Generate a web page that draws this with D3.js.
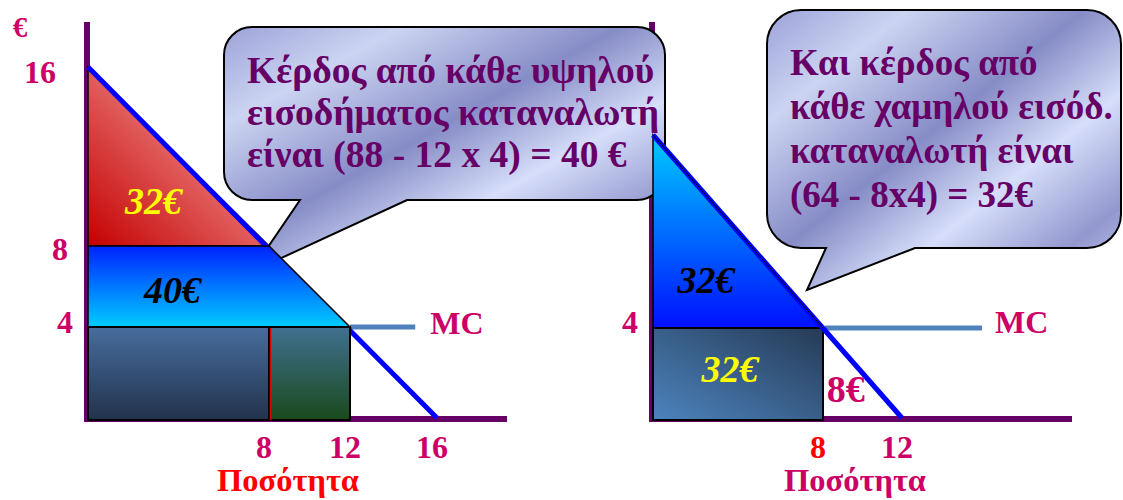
<!DOCTYPE html>
<html>
<head>
  <meta charset="UTF-8">
  <title>Κέρδος ανά καταναλωτή</title>
  <script src="https://d3js.org/d3.v7.min.js"></script>
  <style>
    body { margin: 0; background: white; }
    text { font-family: "Liberation Serif", "Times New Roman", serif; font-weight: bold; }
  </style>
</head>
<body>
<svg id="chart"></svg>
<script>
// ---- data ----
let leftYTicks = [16, 8, 4];
let leftXTicks = [8, 12, 16];
let rightYTicks = [4];
let rightXTicks = [8, 12];

let mc = 4;
let demandHigh = [[0, 16], [16, 0]];
let demandLow = [[0, 12], [12, 0]];

let surplusHigh = [[0, 16], [0, 8], [8, 8]];          // 32€
let profitHigh = [[0, 8], [8, 8], [12, 4], [0, 4]];    // 40€
let costHigh = [[0, 8], [8, 12]];                       // cost rectangles

let profitLow = [[0, 12], [0, 4], [8, 4]];              // 32€
let costLow = [[0, 8]];

let calloutLeft = ["Κέρδος από κάθε υψηλού", "εισοδήματος καταναλωτή", "είναι (88 - 12 x 4) = 40 €"];
let calloutRight = ["Και κέρδος από", "κάθε χαμηλού εισόδ.", "καταναλωτή είναι", "(64 - 8x4) = 32€"];

let width = 1123, height = 500;
let svg = d3.select("#chart").attr("width", width).attr("height", height);

// hand-drawn axes are not perfectly even, so polylinear scales
let xL = d3.scaleLinear().domain([0, 8, 12, 16, 19]).range([88, 269, 350, 437, 507]);
let yL = d3.scaleLinear().domain([0, 4, 8, 16, 18]).range([418, 327, 246, 67, 22]);
let xR = d3.scaleLinear().domain([0, 8, 12, 16, 20.5]).range([653, 823, 902, 982, 1072]);
let yR = d3.scaleLinear().domain([0, 4, 12, 17]).range([418, 328, 135, 22]);

let magenta = "#cc0066", purple = "#660066";

// ---- gradients ----
let defs = svg.append("defs");
function grad(id, x1, y1, x2, y2, stops) {
  let g = defs.append("linearGradient").attr("id", id)
    .attr("x1", x1).attr("y1", y1).attr("x2", x2).attr("y2", y2);
  stops.forEach(s => g.append("stop").attr("offset", s[0]).attr("stop-color", s[1]));
}
grad("gRed", 0, 1, 0.6, 0.4, [[0, "#c40000"], [1, "#e87272"]]);
grad("gCyan", 0, 0, 0, 1, [[0, "#0022ff"], [1, "#00ccff"]]);
grad("gCyanR", 0, 0, 0, 1, [[0, "#00ccff"], [1, "#0010ff"]]);
grad("gSlate", 0, 0, 0, 1, [[0, "#476d9d"], [1, "#22324c"]]);
grad("gGreen", 0, 0, 0, 1, [[0, "#407090"], [1, "#1a4a1c"]]);
grad("gSlateR", 0, 1, 1, 0, [[0, "#4c84be"], [1, "#263a55"]]);
grad("gBubble", 0, 0, 1, 1, [[0, "#9ca2d8"], [0.2, "#ccd4f2"], [0.45, "#868cc6"], [0.65, "#d6defa"],
  [0.85, "#9298ce"], [1, "#c4ccf0"]]);

let line = d3.line();

// ---- axes ----
function axes(x, y, xMax, yMax) {
  svg.append("line").attr("x1", x(0) - 1).attr("x2", x(0) - 1).attr("y1", y(yMax)).attr("y2", y(0) + 3)
    .attr("stroke", purple).attr("stroke-width", 6);
  svg.append("line").attr("x1", x(0) - 4).attr("x2", x(xMax)).attr("y1", y(0) + 1).attr("y2", y(0) + 1)
    .attr("stroke", purple).attr("stroke-width", 6);
}
axes(xL, yL, 19, 18);
axes(xR, yR, 20.5, 17);

// ---- callouts ----
function bubble(x0, y0, x1, y1, r, tailA, tailB, tip, lines, tx, ty0, dy, fs) {
  let p = d3.path();
  p.moveTo(x0 + r, y0);
  p.lineTo(x1 - r, y0); p.arcTo(x1, y0, x1, y0 + r, r);
  p.lineTo(x1, y1 - r); p.arcTo(x1, y1, x1 - r, y1, r);
  p.lineTo(tailB, y1); p.lineTo(tip[0], tip[1]); p.lineTo(tailA, y1);
  p.lineTo(x0 + r, y1); p.arcTo(x0, y1, x0, y1 - r, r);
  p.lineTo(x0, y0 + r); p.arcTo(x0, y0, x0 + r, y0, r);
  p.closePath();
  svg.append("path").attr("d", p.toString()).attr("fill", "url(#gBubble)")
    .attr("stroke", "#000").attr("stroke-width", 2);
  svg.append("g").selectAll("text").data(lines).join("text")
    .attr("x", tx).attr("y", (d, i) => ty0 + i * dy)
    .attr("font-size", fs).attr("fill", purple).text(d => d);
}
bubble(224, 27, 665, 200, 28, 300, 407, [251, 272], calloutLeft, 247, 83, 42, 37.5);

// ---- left panel ----
svg.append("path").attr("d", line(surplusHigh.map(d => [xL(d[0]), yL(d[1])])) + "Z")
  .attr("fill", "url(#gRed)").attr("stroke", "#000").attr("stroke-width", 1.5);
svg.append("line").attr("x1", xL(12)).attr("x2", xL(15)).attr("y1", yL(mc)).attr("y2", yL(mc))
  .attr("stroke", "#4f81bd").attr("stroke-width", 5);
svg.append("path").attr("d", line(demandHigh.map(d => [xL(d[0]), yL(d[1])])))
  .attr("stroke", "#0000ff").attr("stroke-width", 5).attr("fill", "none");
svg.append("path").attr("d", line(profitHigh.map(d => [xL(d[0]), yL(d[1])])) + "Z")
  .attr("fill", "url(#gCyan)").attr("stroke", "#000").attr("stroke-width", 1.5);
svg.selectAll(".costL").data(costHigh).join("rect").attr("class", "costL")
  .attr("x", d => xL(d[0])).attr("width", d => xL(d[1]) - xL(d[0]))
  .attr("y", yL(mc)).attr("height", yL(0) - yL(mc) + 2)
  .attr("fill", (d, i) => i ? "url(#gGreen)" : "url(#gSlate)")
  .attr("stroke", "#000").attr("stroke-width", 2);
svg.append("line").attr("x1", xL(8) + 1.5).attr("x2", xL(8) + 1.5).attr("y1", yL(mc) + 1).attr("y2", yL(0) + 2)
  .attr("stroke", "#e00000").attr("stroke-width", 1.5);

// ---- right panel ----
svg.append("path").attr("d", line(profitLow.map(d => [xR(d[0]), yR(d[1])])) + "Z")
  .attr("fill", "url(#gCyanR)").attr("stroke", "#000").attr("stroke-width", 1.5);
svg.selectAll(".costR").data(costLow).join("rect").attr("class", "costR")
  .attr("x", d => xR(d[0])).attr("width", d => xR(d[1]) - xR(d[0]))
  .attr("y", yR(mc)).attr("height", yR(0) - yR(mc) + 2)
  .attr("fill", "url(#gSlateR)").attr("stroke", "#000").attr("stroke-width", 2);
svg.append("line").attr("x1", xR(8) + 2).attr("x2", xR(16)).attr("y1", yR(mc)).attr("y2", yR(mc))
  .attr("stroke", "#4f81bd").attr("stroke-width", 5);
svg.append("path").attr("d", line(demandLow.map(d => [xR(d[0]), yR(d[1])])))
  .attr("stroke", "#0000ff").attr("stroke-width", 5).attr("fill", "none");
svg.append("path").attr("d", line(profitLow.slice(0, 1).concat([[8, 4]]).map(d => [xR(d[0]), yR(d[1])])))
  .attr("stroke", "#000").attr("stroke-width", 1).attr("fill", "none");

bubble(767, 10, 1121, 248, 34, 826, 915, [807, 290], calloutRight, 790, 75, 44, 37);

// ---- tick labels ----
// hand-placed label positions in the original slide: [x, baseline offset]
let yLabelPos = { L: { 16: [40, 16], 8: [60, 14], 4: [65, 6] }, R: { 4: [630, 5] } };
function ticks(side, x, y, xt, yt, xColors) {
  svg.append("g").selectAll("text").data(yt).join("text")
    .attr("x", d => yLabelPos[side][d][0]).attr("y", d => y(d) + yLabelPos[side][d][1])
    .attr("text-anchor", "middle")
    .attr("font-size", 32).attr("fill", magenta).text(d => d);
  svg.append("g").selectAll("text").data(xt).join("text")
    .attr("x", d => x(d) - 5).attr("y", 458).attr("text-anchor", "middle")
    .attr("font-size", 32).attr("fill", (d, i) => xColors[i]).text(d => d);
}
ticks("L", xL, yL, leftXTicks, leftYTicks, [magenta, magenta, magenta]);
ticks("R", xR, yR, rightXTicks, rightYTicks, ["#ff0000", magenta]);

svg.append("text").attr("x", 20).attr("y", 37).attr("text-anchor", "middle")
  .attr("font-size", 29).attr("fill", magenta).text("€");
svg.append("text").attr("x", xL(8) + 19).attr("y", 491).attr("text-anchor", "middle")
  .attr("font-size", 32.5).attr("fill", "#ff0000").text("Ποσότητα");
svg.append("text").attr("x", xR(8) + 32).attr("y", 491).attr("text-anchor", "middle")
  .attr("font-size", 32.5).attr("fill", magenta).text("Ποσότητα");
svg.append("text").attr("x", xL(15) + 15).attr("y", yL(mc) + 7).attr("font-size", 32)
  .attr("fill", magenta).text("MC");
svg.append("text").attr("x", xR(16) + 13).attr("y", yR(mc) + 5).attr("font-size", 32)
  .attr("fill", magenta).text("MC");

// ---- area labels ----
function areaLabel(x, y, txt, color, italic) {
  svg.append("text").attr("x", x).attr("y", y).attr("text-anchor", "middle")
    .attr("font-size", 38).attr("font-style", italic ? "italic" : "normal")
    .attr("fill", color).text(txt);
}
areaLabel((xL(0) + xL(8)) / 2 - 25, (yL(8) + yL(16)) / 2 + 57, "32€", "#ffff00", true);
areaLabel((xL(0) + xL(8)) / 2 - 6, (yL(4) + yL(8)) / 2 + 16, "40€", "#000", true);
areaLabel((xR(0) + xR(8)) / 2 - 32, (yR(4) + yR(12)) / 2 + 61, "32€", "#000", true);
areaLabel((xR(0) + xR(8)) / 2 - 8, (yR(0) + yR(4)) / 2 + 9, "32€", "#ffff00", true);
areaLabel(xR(9.5) - 7, yR(0) - 16, "8€", magenta, false);
</script>
</body>
</html>
